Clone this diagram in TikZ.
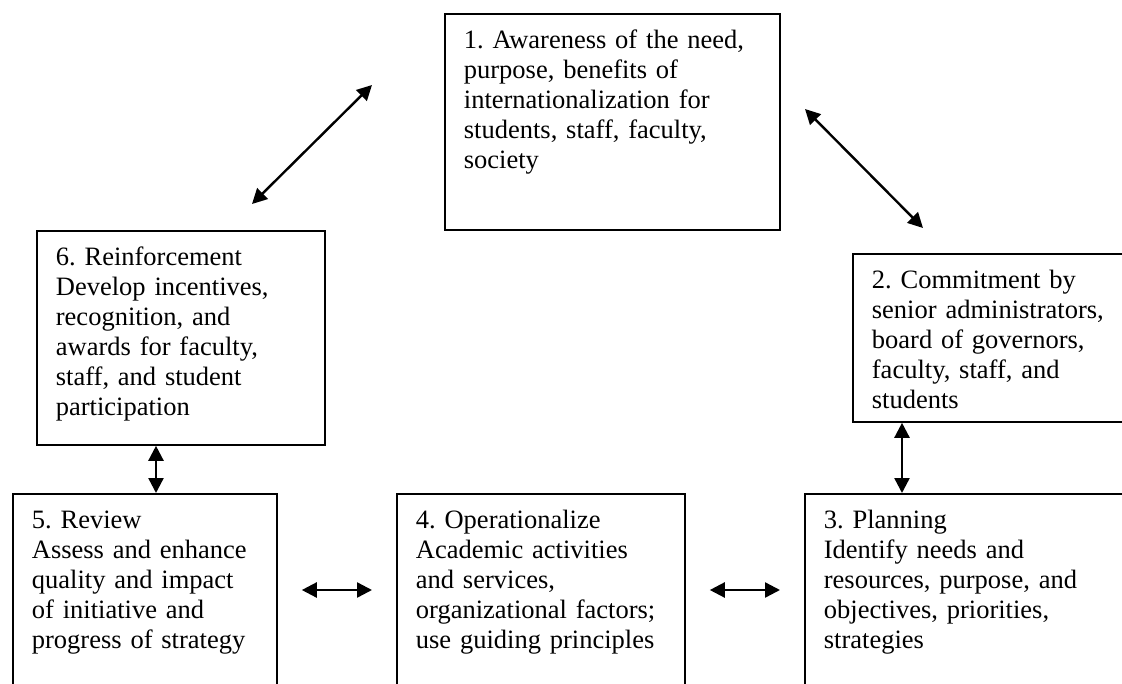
\documentclass[tikz,border=0pt]{standalone}
\usepackage{fontspec}
\setmainfont{Liberation Serif}
\usetikzlibrary{arrows.meta}
\frenchspacing

\tikzset{
    stagebox/.style={draw, line width=1.8pt, anchor=north west, align=left,
        inner xsep=19pt, inner ysep=17pt, text height=18pt,
        font=\fontsize{26.5}{30}\selectfont},
    link/.style={{Triangle[length=15pt,width=15pt]}-{Triangle[length=15pt,width=15pt]},
        line width=2.4pt}
}

\begin{document}
\begin{tikzpicture}[x=1pt,y=-1pt]
    \useasboundingbox (0,0) rectangle (1122,683);
    \clip (0,0) rectangle (1122,683);

    \node[stagebox, text width=297pt, text depth=164pt] (aware) at (444,13)
        {1. Awareness of the need,\\ purpose, benefits of\\ internationalization for\\ students, staff, faculty,\\ society};
    \node[stagebox, text width=245pt, text depth=116pt] (commit) at (852,253)
        {2. Commitment by\\ senior administrators,\\ board of governors,\\ faculty, staff, and\\ students};
    \node[stagebox, text width=293pt, text depth=155pt] (plan) at (804,493)
        {3. Planning\\ Identify needs and\\ resources, purpose, and\\ objectives, priorities,\\ strategies};
    \node[stagebox, text width=250pt, text depth=155pt] (oper) at (396,493)
        {4. Operationalize\\ Academic activities\\ and services,\\ organizational factors;\\ use guiding principles};
    \node[stagebox, text width=226pt, text depth=155pt] (review) at (12,493)
        {5. Review\\ Assess and enhance\\ quality and impact\\ of initiative and\\ progress of strategy};
    \node[stagebox, text width=250pt, text depth=162pt] (reinf) at (36,230)
        {6. Reinforcement\\ Develop incentives,\\ recognition, and\\ awards for faculty,\\ staff, and student\\ participation};

    % free ends of the slanted links
    \coordinate (reinfend) at (252,204);
    \coordinate (awareleft) at (372,85);
    \coordinate (awareright) at (805,109);
    \coordinate (commitend) at (923,228);
    % where the straight links run
    \coordinate (col65) at (156,0);
    \coordinate (col23) at (902,0);
    \coordinate (row) at (0,590);

    \draw[link] (reinfend) -- (awareleft);
    \draw[link] (awareright) -- (commitend);
    \draw[link] (commit.south -| col23) -- (plan.north -| col23);
    \draw[link, shorten <=24pt, shorten >=24pt] (plan.west |- row) -- (oper.east |- row);
    \draw[link, shorten <=24pt, shorten >=24pt] (oper.west |- row) -- (review.east |- row);
    \draw[link] (reinf.south -| col65) -- (review.north -| col65);
\end{tikzpicture}
\end{document}
